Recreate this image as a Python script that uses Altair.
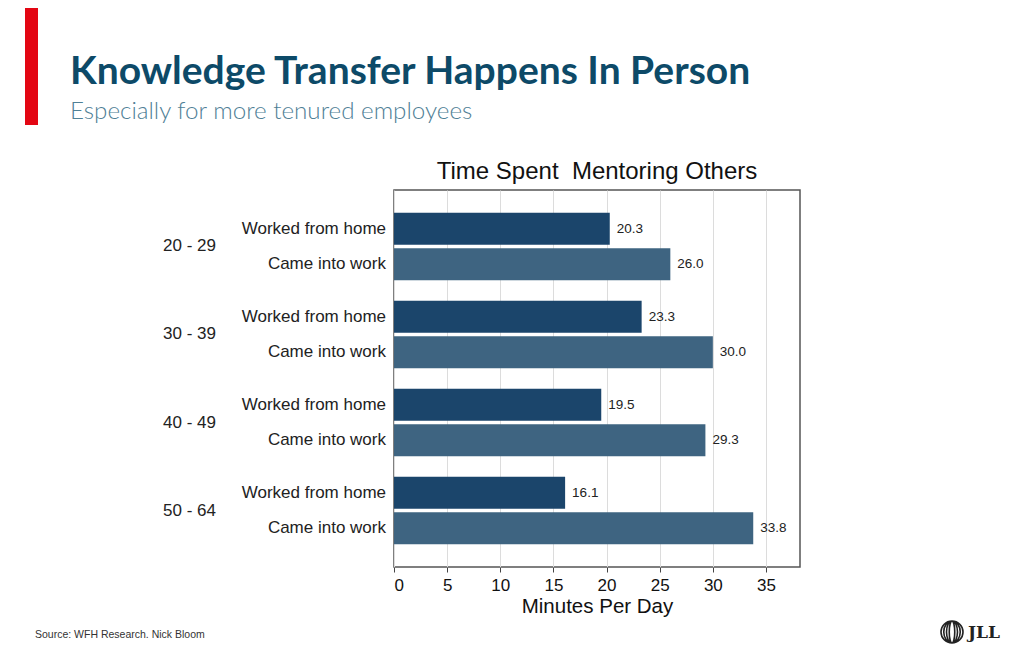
import altair as alt
import pandas as pd

# ---- data ----
age_groups = ["20 - 29", "30 - 39", "40 - 49", "50 - 64"]
conditions = ["Worked from home", "Came into work"]
wfh_values = [20.3, 23.3, 19.5, 16.1]
came_values = [26.0, 30.0, 29.3, 33.8]
x_ticks = [0, 5, 10, 15, 20, 25, 30, 35]
bar_colors = ["#1b456b", "#3e6481"]

main_title = ["Knowledge Transfer Happens In Person"]
sub_title = ["Especially for more tenured employees"]
chart_title = ["Time Spent\u00a0 Mentoring Others"]
source_text = ["Source: WFH Research. Nick Bloom"]
logo_text = ["JLL"]

rows = []
for i, g in enumerate(age_groups):
    rows.append({"age": g, "cond": conditions[0], "value": wfh_values[i]})
    rows.append({"age": g, "cond": conditions[1], "value": came_values[i]})
df = pd.DataFrame(rows)

FONT = "Liberation Sans"

y_enc = alt.Y("age:N", sort=age_groups, axis=None,
              scale=alt.Scale(paddingInner=0, paddingOuter=0.142))
yoff_enc = alt.YOffset("cond:N", sort=conditions,
                       scale=alt.Scale(paddingInner=0.1, paddingOuter=0.29))
x_enc = alt.X("value:Q",
              scale=alt.Scale(domain=[0, 38.2], nice=False, zero=True),
              axis=alt.Axis(values=x_ticks, title="Minutes Per Day",
                            grid=True, gridColor="#dcdcdc", gridWidth=1,
                            domain=False, ticks=True, tickColor="#444",
                            tickSize=5, tickWidth=1,
                            labelFont=FONT, labelFontSize=17, labelColor="#111",
                            labelPadding=5,
                            titleFont=FONT, titleFontSize=20.5, titleFontWeight="normal",
                            titleColor="#111", titlePadding=3))

base = alt.Chart(df)

bars = base.mark_bar().encode(
    x=x_enc,
    y=y_enc,
    yOffset=yoff_enc,
    color=alt.Color("cond:N", scale=alt.Scale(domain=conditions, range=bar_colors), legend=None),
)

values = base.mark_text(align="left", baseline="middle", dx=7, font=FONT,
                        fontSize=13.5, color="#222").encode(
    x="value:Q", y=y_enc, yOffset=yoff_enc,
    text=alt.Text("value:Q", format=".1f"),
)

cond_labels = base.mark_text(align="right", baseline="middle", font=FONT,
                             fontSize=17, color="#222").encode(
    x=alt.value(-8), y=y_enc, yOffset=yoff_enc, text="cond:N",
)

age_labels = base.transform_filter(
    alt.datum.cond == conditions[0]
).mark_text(align="left", baseline="middle", font=FONT, fontSize=17, color="#222").encode(
    x=alt.value(-231), y=y_enc, text="age:N",
)

def deco_text(texts, **kw):
    pos = {k: kw.pop(k) for k in ["x", "y"]}
    return alt.Chart(pd.DataFrame({"t": texts})).mark_text(**kw).encode(
        x=alt.value(pos["x"]), y=alt.value(pos["y"]), text="t:N")

title_t = deco_text(main_title, x=-324, y=-106, align="left", baseline="alphabetic",
                    font="Lato", fontWeight="bold", fontSize=39, color="#0d4a68")
sub_t = deco_text(sub_title, x=-324, y=-71, align="left", baseline="alphabetic",
                  font="Lato", fontWeight=300, fontSize=24.2, color="#4f8096")
chart_t = deco_text(chart_title, x=203, y=-11, align="center", baseline="alphabetic",
                    font=FONT, fontSize=24, color="#111")
source_t = deco_text(source_text, x=-359, y=448, align="left", baseline="alphabetic",
                     font=FONT, fontSize=10.5, color="#333")
logo_t = deco_text(logo_text, x=574, y=448, align="left", baseline="alphabetic",
                   font="DejaVu Serif", fontWeight="bold", fontSize=17, color="#222")

red_bar = alt.Chart(pd.DataFrame({"k": [0]})).mark_rect(color="#e30613").encode(
    x=alt.value(-369), x2=alt.value(-356), y=alt.value(-190), y2=alt.value(-65))

ring_path = ("M0,-1 A0.25,1 0 1,1 0,1 A0.25,1 0 1,1 0,-1 "
             "M0,-1 A0.5,1 0 1,1 0,1 A0.5,1 0 1,1 0,-1 "
             "M0,-1 A0.75,1 0 1,1 0,1 A0.75,1 0 1,1 0,-1 "
             "M0,-1 A1,1 0 1,1 0,1 A1,1 0 1,1 0,-1")
rings = alt.Chart(pd.DataFrame({"k": [0]})).mark_point(
    shape=ring_path, filled=False, stroke="#222", strokeWidth=1.6, size=484, opacity=1
).encode(x=alt.value(558), y=alt.value(442))

chart = alt.layer(
    bars, values, cond_labels, age_labels,
    red_bar, title_t, sub_t, chart_t, source_t, logo_t, rings,
).properties(
    width=406, height=377,
    padding={"left": 386, "top": 182, "right": 216, "bottom": 86},
    autosize=alt.AutoSizeParams(type="none"),
    background="white",
).configure_view(stroke="#555", strokeWidth=1.5)

chart.save("out.html", embed_options={"renderer": "svg", "actions": False})
